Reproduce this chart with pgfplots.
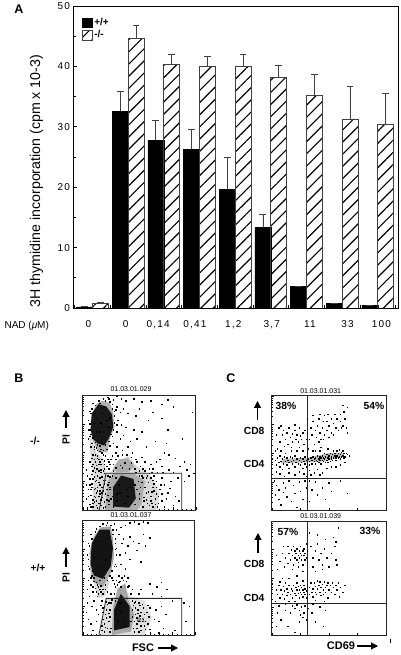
\documentclass[border=0pt]{standalone}
\usepackage{pgfplots}
\usepackage{fontspec}
\setmainfont{Liberation Sans}
\newfontfamily\tickf[LetterSpace=12]{Liberation Sans}
\pgfplotsset{compat=1.18}
\usetikzlibrary{patterns.meta,arrows.meta}
\pgfplotstableread{
x y e
-0.222 0.2 0
0.778 32.6 3.3
1.778 27.8 3.2
2.778 26.3 3.3
3.778 19.6 5.4
4.778 13.3 2.2
5.778 3.6 0
6.778 0.8 0
7.778 0.45 0
}\wt
\pgfplotstableread{
x y e
0.222 0.7 0.3
1.222 44.65 2.15
2.222 40.35 1.6
3.222 40.0 1.7
4.222 40.0 2.0
5.222 38.2 2.0
6.222 35.2 3.5
7.222 31.3 5.4
8.222 30.4 5.1
}\ko
\pgfplotsset{
 flow/.style={scale only axis,width=113pt,height=115pt,anchor=south west,
  xmin=0,xmax=100,ymin=0,ymax=100,axis line style={line width=.9pt,black!85},
  xticklabels={},yticklabels={},tick style={black,line width=.4pt},
  tick pos=left,major tick length=2.5pt,minor tick length=1.2pt,
  ytick={0,25,50,75,100},
  minor ytick={7.5,12,15,17.5,19.5,21,23,32,37,40,42.5,44.5,46,48,57,62,65,67.5,69.5,71,73,82,87,90,92.5,94.5,96,98},
  clip=false},
 pts/.style={only marks,mark=square*,mark size=.27pt,mark options={draw=none,fill=black}},
 wpts/.style={only marks,mark=square*,mark size=.3pt,mark options={draw=none,fill=white}},
 zone/.style={draw=none,fill=#1,forget plot},
 gate/.style={black!85,line width=.8pt,no markers},
}
\begin{document}
\begin{tikzpicture}[x=1pt,y=1pt]
\useasboundingbox (0,0) rectangle (400,655);
% ---------- A
\begin{axis}[at={(73.5pt,347pt)},anchor=south west,scale only axis,width=325pt,height=302pt,
 xmin=-0.53,xmax=8.58,ymin=0,ymax=50,
 xtick={-0.5,0.5,1.5,2.5,3.5,4.5,5.5,6.5,7.5,8.5},xticklabels={},
 extra x ticks={-0.11,0.93,1.84,2.87,3.95,5.03,6.1,7.15,8.1},
 extra x tick labels={0,0,{0,14},{0,41},{1,2},{3,7},11,33,100},
 extra x tick style={major tick length=0pt,tick label style={yshift=-9pt}},
 ytick={0,10,20,30,40,50},minor ytick={5,15,25,35,45},
 tick pos=left,major tick length=3pt,minor tick length=2pt,
 tick style={black,line width=.6pt},
 axis line style={black,line width=.8pt},
 tick label style={font=\tickf\fontsize{10}{12}\selectfont,/pgf/number format/assume math mode=true},
 ylabel={3H thymidine incorporation (cpm x 10-3)},
 ylabel style={font=\fontsize{14.2}{16}\selectfont,at={(rel axis cs:0,0.42)},anchor=south,yshift=27pt},
 legend style={at={(axis description cs:0.026,0.968)},anchor=north west,draw=none,fill=none,
   font=\bfseries\fontsize{10}{11}\selectfont,row sep=0pt,inner sep=0pt,
   /tikz/every even column/.append style={column sep=2pt}},
 legend cell align=left,
 legend image code/.code={\draw[#1] (0pt,-5pt) rectangle (9.5pt,4.5pt);},
]
\addplot[ybar,bar width=0.445,bar shift=0pt,fill=black,draw=black,
 error bars/.cd,y dir=plus,y explicit,error bar style={black!75,line width=.7pt},
 error mark options={rotate=90,black!75,line width=.7pt,mark size=3.4pt}]
 table[x=x,y=y,y error=e]{\wt};
\addlegendentry{+/+}
\addplot[ybar,bar width=0.445,bar shift=0pt,draw=black!75,line width=.7pt,
 pattern={Lines[distance=8.6pt,angle=45,line width=1.15pt]},pattern color=black,
 error bars/.cd,y dir=plus,y explicit,error bar style={black!75,line width=.7pt},
 error mark options={rotate=90,black!75,line width=.7pt,mark size=3.4pt}]
 table[x=x,y=y,y error=e]{\ko};
\addlegendentry{-/-}
\end{axis}
\node[font=\bfseries\fontsize{12.5}{13}\selectfont] at (19,646) {A};
\node[font=\fontsize{10}{11}\selectfont,anchor=west] at (1,329.5) {NAD (\textit{μ}M)};
% ---------- B top
\begin{axis}[flow,at={(82.7pt,145pt)},xtick={0,20,40,60,80,100},minor xtick={4,8,12,16,24,28,32,36,44,48,52,56,64,68,72,76,84,88,92,96}]
\addplot[zone=gray!30] coordinates {(6,68)(12,50)(18,45)(21,32)(10,30)(7,45)} --cycle;
\addplot[zone=gray!30] coordinates {(8,0)(10,30)(25,33)(30,41)(40,47)(48,38)(60,30)(68,15)(66,0)} --cycle;
\addplot[zone=gray!60] coordinates {(7,70)(8,82)(12,92)(17,95)(24,93)(27,85)(28,72)(24,62)(22,50)(14,50)(9,60)} --cycle;
\addplot[zone=gray!65] coordinates {(27,36)(32,44)(40,45)(46,38)(40,33)(30,33)} --cycle;
\addplot[zone=gray!65] coordinates {(20,0)(22,25)(28,32)(45,32)(55,25)(52,5)(48,0)} --cycle;
\addplot[zone=black!90] coordinates {(7,70)(8,84)(14,92)(21,90)(26,83)(27,72)(23,62)(19,56)(13,58)(9,62)} --cycle;
\addplot[zone=black!90] coordinates {(27,3)(27,20)(34,30)(45,27)(47,10)(41,2)} --cycle;
\addplot[pts] coordinates {(22,98)(27,96)(30,99)(34,97)(38,95)(45,97)(52,94)(60,95)(70,92)(75,96)(80,90)(97,85)(30,90)(33,85)(36,88)(40,84)(47,82)(50,88)(58,78)(62,85)(70,80)(31,78)(34,74)(38,72)(45,70)(52,68)(30,68)(33,62)(36,65)(42,60)(48,62)(56,55)(30,55)(35,52)(40,55)(64,60)(75,70)(88,62)(72,50)(76,48)(82,45)(90,42)(95,40)(86,38)(92,35)(65,42)(60,40)(55,42)(52,46)(70,38)(76,35)(80,33)(84,28)(90,25)(78,25)(72,22)(75,15)(82,12)(85,8)(70,8)(72,3)(80,4)(62,3)(64,10)(68,18)(70,28)(60,28)(5,62)(7,55)(9,48)(6,42)(8,38)(11,42)(14,44)(18,48)(22,44)(24,40)(4,30)(3,22)(5,18)(3,10)(6,5)(4,2)(9,3)(12,8)(15,14)(17,20)(14,24)(19,7)(20,14)(23,5)(3,35)
(6,27)(8,23)(10,18)(7,13)(9,9)(12,4)(5,12)(11,25)(13,30)(16,33)(19,36)(23,36)(26,30)(24,20)(25,10)(27,3)(16,4)(18,26)(21,18)(55,34)(58,24)(62,20)(60,12)(57,6)(53,3)(56,15)(65,25)(66,33)(50,30)(48,42)(44,50)(26,47)(29,50)(27,58)(25,66)(30,74)(28,82)(26,92)(29,87)(23,97)(18,97)(14,95)(9,93)(6,86)(5,78)(5,70)(6,64)(10,53)(13,47)(16,53)(20,57)(24,56)(94,30)(98,32)(74,58)(68,44)(62,36)(46,5)(50,14)(51,20)(49,25)(47,33)(70,14)(67,6)(74,10)(77,19)(63,30)(71,33)
(10,44)(12,36)(14,34)(16,40)(9,34)(13,52)(17,50)(20,47)(19,40)(11,33)(12,15)(14,6)(17,11)(18,17)(13,20)(10,12)(8,20)(9,27)(15,28)(20,26)(22,30)(58,16)(60,8)(55,20)(62,26)(59,32)(64,5)(54,8)(52,30)(56,28)(61,16)(63,23)(65,14)
(9,6)(11,11)(13,17)(15,22)(17,29)(19,32)(21,38)(23,42)(25,44)(27,40)(29,44)(31,47)(35,48)(39,48)(43,46)(47,44)(51,38)(53,36)(57,30)(59,36)(61,33)(63,17)(65,20)(67,12)(69,22)(66,3)(61,6)(59,4)(56,9)(54,11)(52,24)(53,28)(50,34)(46,36)(43,41)(41,36)(37,41)(33,39)(29,37)(27,34)(24,29)(23,24)(21,9)(20,3)(18,2)(16,9)(14,12)(12,26)(10,29)(8,31)(7,18)(6,22)(10,7)(13,2)(15,17)(17,15)(19,23)(22,13)(7,3)(11,19)
(7,66)(9,63)(8,58)(11,59)(13,57)(15,56)(17,58)(20,60)(23,60)(26,64)(27,70)(28,76)(28,86)(26,88)(24,94)(20,95)(15,93)(11,91)(8,88)(7,84)(6,75)(6,70)(10,55)(12,54)(15,51)(18,52)(21,53)(11,48)(13,45)(15,42)(9,40)(12,39)(17,44)(19,43)(10,37)(13,36)(16,35)(14,40)(18,34)(8,45)};
\addplot[wpts] coordinates {(10,75)(13,80)(17,84)(21,78)(23,72)(15,68)(19,64)(12,68)(16,76)(24,80)(11,84)(30,8)(33,15)(36,24)(40,12)(42,20)(32,22)(37,6)(43,6)(30,14)(39,18)(26,12)(24,18)(48,18)(50,10)(46,22)(23,8)(35,37)(29,28)(22,22)};
\addplot[gate] coordinates {(14.7,0)(20.6,31.9)(87.6,31.9)(87.6,0)};
\end{axis}
% ---------- B bottom
\begin{axis}[flow,at={(82.7pt,20pt)},height=114.5pt,width=112pt,xtick={0,20,40,60,80,100},minor xtick={4,8,12,16,24,28,32,36,44,48,52,56,64,68,72,76,84,88,92,96}]
\addplot[zone=gray!30] coordinates {(6,62)(14,32)(20,34)(24,46)(20,54)(8,60)} --cycle;
\addplot[zone=gray!25] coordinates {(16,0)(20,32)(36,33)(32,40)(36,44)(42,34)(55,30)(62,15)(55,0)} --cycle;
\addplot[zone=gray!70] coordinates {(7,55)(6,72)(10,86)(16,94)(25,95)(27,84)(28,68)(25,54)(18,42)(10,46)} --cycle;
\addplot[zone=gray!70] coordinates {(26,0)(27,24)(31,40)(38,45)(41,30)(46,18)(43,3)} --cycle;
\addplot[zone=black!92] coordinates {(7,62)(8,80)(15,92)(24,92)(27,76)(25,60)(18,49)(10,52)} --cycle;
\addplot[zone=black!92] coordinates {(28,4)(28,22)(34,36)(42,25)(42,7)} --cycle;
\addplot[pts] coordinates {(30,92)(34,94)(38,96)(42,98)(46,99)(50,97)(54,99)(58,98)(28,97)(32,88)(36,84)(42,86)(45,82)(50,80)(54,88)(48,74)(56,78)(60,85)(30,76)(33,70)(38,72)(42,66)(34,62)(38,58)(30,60)(32,52)(40,50)(36,48)(60,45)(66,42)(70,46)(50,36)(52,40)(62,36)(70,34)(75,40)(80,30)(90,28)(95,25)(70,25)(65,22)(68,12)(72,6)(60,5)(64,14)(58,26)(54,24)(50,28)(48,15)(52,8)(50,3)(47,24)(56,12)(44,30)(5,48)(4,40)(7,44)(6,34)(9,38)(4,28)(3,20)(5,14)(8,25)(10,30)(12,22)(7,10)(9,4)(12,12)(14,18)(16,26)(12,38)(14,42)(20,40)(18,24)(21,15)(22,6)(24,22)(19,3)(23,28)(25,36)(28,45)(30,48)(26,50)(32,46)(34,42)(5,80)(4,70)(5,60)(7,88)(12,93)(18,97)(22,98)(27,92)(29,84)(30,70)(29,62)(27,48)(40,42)(44,40)(46,28)(48,32)(42,12)(45,6)(46,12)(92,12)(68,2)(82,4)(74,18)(40,78)(52,64)(35,80)
(17,4)(19,10)(21,22)(23,12)(24,3)(25,28)(20,18)(18,14)(22,27)(24,16)(48,6)(50,12)(52,20)(54,14)(56,5)(49,22)(51,26)(45,26)(47,18)(44,22)(55,18)(58,10)(16,38)(18,36)(10,50)(12,46)(15,48)(22,38)(20,44)(17,30)(13,34)
(17,8)(18,20)(20,7)(21,29)(23,19)(25,6)(26,31)(28,36)(29,42)(31,44)(33,47)(35,50)(37,52)(39,47)(41,43)(43,36)(45,32)(47,29)(49,19)(51,17)(53,12)(55,8)(57,20)(59,16)(53,27)(46,3)(48,10)(44,16)(52,4)(60,24)(14,36)(16,43)(19,50)(22,48)(24,52)(26,56)(28,60)(29,75)(29,80)(27,88)(25,96)(21,96)(15,95)(11,90)(8,84)(6,78)(5,66)(6,58)(8,52)(10,47)(13,44)(18,40)(15,40)(11,41)(9,42)(7,50)(9,56)};
\addplot[wpts] coordinates {(10,68)(13,74)(17,82)(21,84)(24,74)(20,66)(15,60)(14,82)(12,60)(22,58)(31,12)(34,20)(37,14)(33,28)(38,8)(36,25)(30,18)(39,32)(43,12)(29,30)};
\addplot[gate] coordinates {(14.5,0)(21,32)(88.5,32)(88.5,0)};
\end{axis}
% ---------- C top
\begin{axis}[flow,at={(271.7pt,144.5pt)},width=114.3pt,height=114.7pt,xtick={0,25,50,75,100}]
\addplot[zone=gray!55] coordinates {(8,41)(30,42)(48,43)(62,47)(64,50)(50,50)(32,46)(10,45)} --cycle;
\addplot[pts] coordinates {(7,60)(9,66)(10,70)(12,62)(13,68)(15,72)(16,64)(18,60)(18,67)(20,70)(21,62)(22,66)(23,60)(24,72)(25,65)(26,62)(27,68)(28,58)(29,70)(30,62)(14,58)(11,56)(6,72)(8,74)(20,75)(17,55)(24,55)(4,66)
(33,62)(35,66)(34,72)(36,78)(38,70)(39,64)(40,74)(41,80)(42,68)(43,62)(44,72)(45,78)(46,83)(46,66)(48,70)(48,78)(50,74)(50,64)(52,68)(52,80)(54,76)(54,66)(56,72)(57,80)(58,70)(60,78)(60,84)(61,72)(62,74)(64,80)(63,86)(65,72)(66,68)(37,58)(41,60)(45,62)(31,80)(36,83)(42,84)(49,84)(55,84)(43,55)(38,52)(32,54)(66,90)(62,92)
(3,44)(4,40)(5,46)(6,42)(7,48)(7,38)(8,43)(9,45)(9,36)(10,41)(11,47)(12,43)(13,40)(13,46)(14,44)(15,42)(15,37)(16,47)(17,43)(18,41)(18,46)(19,44)(20,38)(20,48)(21,42)(22,45)(23,41)(24,44)(25,46)(25,40)(26,42)(27,45)(27,37)(28,43)(29,47)(29,41)(30,44)(30,38)
(31,42)(32,45)(33,43)(33,40)(34,46)(35,44)(35,41)(36,47)(37,43)(37,45)(38,46)(38,41)(39,44)(40,48)(40,43)(41,45)(41,42)(42,47)(42,44)(43,46)(43,41)(44,48)(44,44)(45,46)(45,43)(46,50)(46,45)(47,47)(47,42)(48,44)(48,49)(49,46)(49,42)(50,48)(50,45)(51,50)(51,43)(52,47)(52,45)(53,49)(53,44)(54,52)(54,46)(55,48)(55,50)(56,46)(56,44)(57,52)(57,48)(58,50)(58,46)(59,47)(59,53)(60,49)(60,45)(61,51)(61,47)(62,48)(62,52)(63,50)(63,46)(64,47)(65,50)(66,49)(68,48)
(3,52)(5,54)(8,52)(12,50)(17,52)(22,52)(27,52)(31,50)(36,52)(42,52)(49,54)(4,34)(7,32)(11,30)(15,33)(20,31)(24,34)(28,32)(30,30)(33,35)(37,33)(40,36)(44,33)(48,37)(52,38)(56,38)(60,40)(64,42)(34,31)(42,31)
(2,26)(4,22)(6,18)(3,14)(6,10)(8,5)(10,24)(12,20)(13,12)(15,26)(17,8)(19,22)(20,15)(22,3)(24,25)(25,17)(27,10)(29,26)(30,20)(10,16)(33,26)(35,18)(38,25)(40,14)(44,20)(50,24)(52,17)(60,26)(66,15)(33,8)(47,10)};
\addplot[gate] coordinates {(30.9,0)(30.9,100)};
\addplot[gate] coordinates {(0,28.2)(100,28.2)};
\end{axis}
% ---------- C bottom
\begin{axis}[flow,at={(271.7pt,19.5pt)},width=114.3pt,height=114.5pt,xtick={0,25,50,75,100}]
\addplot[pts] coordinates {(7,65)(9,72)(11,60)(12,68)(14,63)(15,72)(16,66)(17,75)(18,70)(19,62)(19,78)(20,68)(20,74)(21,72)(22,66)(22,76)(23,70)(23,64)(24,74)(24,68)(25,72)(25,78)(26,66)(26,70)(27,74)(27,62)(28,70)(28,76)(29,66)(29,72)(30,68)(30,80)(31,74)(18,58)(23,60)(27,56)(14,78)(10,78)(5,58)(4,70)
(34,78)(36,68)(38,74)(40,80)(41,66)(43,72)(44,62)(46,76)(47,84)(48,68)(50,60)(52,72)(54,86)(55,78)(56,66)(57,62)(36,60)(33,90)(40,88)(58,94)(56,82)(44,58)(38,56)
(4,40)(5,36)(6,44)(7,33)(7,47)(8,40)(9,36)(10,43)(11,32)(11,39)(12,46)(13,35)(13,41)(14,38)(15,30)(15,44)(16,36)(17,41)(18,33)(18,39)(19,44)(20,37)(20,30)(21,42)(21,35)(22,40)(22,46)(23,37)(23,43)(24,33)(24,40)(25,38)(25,44)(26,36)(26,42)(27,40)(27,34)(28,38)(28,44)(29,36)(29,41)(30,39)(30,33)(31,43)(31,37)(15,50)(9,50)(22,52)(27,48)(3,30)(12,28)(6,26)
(33,36)(33,42)(34,46)(35,38)(36,41)(36,34)(37,46)(38,38)(38,43)(39,36)(40,48)(40,41)(41,44)(42,38)(42,47)(43,35)(43,42)(44,45)(45,40)(45,36)(46,47)(47,42)(47,38)(48,44)(49,33)(49,46)(50,40)(51,44)(52,38)(53,46)(54,42)(55,36)(56,44)(57,40)(58,46)(60,42)(62,38)(59,34)(64,44)(46,30)(38,31)
(18,26)(20,24)(22,27)(24,22)(26,25)(28,20)(29,26)(30,14)(24,12)(27,16)(16,20)(12,22)(8,14)(5,20)(14,8)(20,3)(25,18)(32,24)(35,20)(38,12)(42,25)(47,22)(45,8)(36,28)(4,8)};
\addplot[gate] coordinates {(30.9,0)(30.9,100)};
\addplot[gate] coordinates {(0,28.3)(100,28.3)};
\end{axis}
% ---------- annotations
\node[font=\bfseries\fontsize{12.5}{13}\selectfont] at (19,646) {};
\node[font=\bfseries\fontsize{12.5}{13}\selectfont] at (19,277) {B};
\node[font=\bfseries\fontsize{12.5}{13}\selectfont] at (231,277) {C};
\foreach \x/\y/\t in {131/266/01.03.01.029,131/140/01.03.01.037,320.7/264/01.03.01.031,320.7/139/01.03.01.039}
 \node[font=\fontsize{7}{8}\selectfont] at (\x,\y) {\t};
\node[font=\fontsize{6}{7}\selectfont] at (141,35) {R1};
\node[font=\fontsize{6}{7}\selectfont] at (144,268) {};
\begin{scope}[font=\bfseries\fontsize{10.3}{12}\selectfont]
\node at (35,214) {-/-};
\node at (38,87) {+/+};
\node[rotate=90] at (66,215) {PI};
\node[rotate=90] at (66,77) {PI};
\node[font=\bfseries\fontsize{11}{12}\selectfont] at (143,7) {FSC};
\node at (286,249) {38\%};
\node at (374,249) {54\%};
\node at (288,123) {57\%};
\node at (370,124) {33\%};
\node[anchor=east] at (268,224) {CD8};
\node[anchor=east] at (268,191) {CD4};
\node[anchor=east] at (268,91) {CD8};
\node[anchor=east] at (268,57) {CD4};
\node[font=\bfseries\fontsize{11}{12}\selectfont] at (341,9) {CD69};
\end{scope}
\draw[line width=1.1pt,-{Triangle[length=7pt,width=7pt]}] (66,227) -- (66,245);
\draw[line width=1.1pt,-{Triangle[length=7pt,width=7pt]}] (66,88) -- (66,108);
\draw[line width=1.1pt,-{Triangle[length=7pt,width=7pt]}] (158,7) -- (178,7);
\draw[line width=1.1pt,-{Triangle[length=7pt,width=7pt]}] (257.5,235) -- (257.5,254);
\draw[line width=1.1pt,-{Triangle[length=7pt,width=7pt]}] (258,102) -- (258,122);
\draw[line width=1.1pt,-{Triangle[length=7pt,width=7pt]}] (357,9) -- (378,9);
\draw[line width=.3pt] (390,12) -- (390,16);
\end{tikzpicture}
\end{document}
